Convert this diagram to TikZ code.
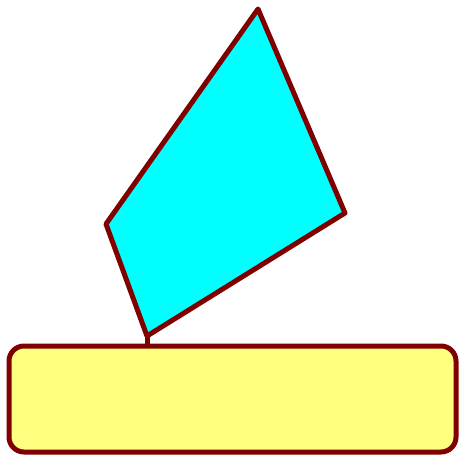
\documentclass[tikz,border=0pt]{standalone}
\usepackage{tikz}
\usetikzlibrary{calc, positioning}

\definecolor{rim}{RGB}{128,0,0}
\definecolor{lemon}{RGB}{255,255,128}
\definecolor{aqua}{RGB}{0,255,255}

\begin{document}
\begin{tikzpicture}[x=1pt, y=-1pt, line join=round,
  edge/.style={draw=rim, line width=5pt},
  slab/.style={edge, fill=lemon, rounded corners=15pt}]
\useasboundingbox (0,0) rectangle (461,458);
% base block
\path[slab] (9,346) rectangle (456,452);
\coordinate (base) at (147,346);
% tilted quadrilateral
\coordinate (top) at (258,9);
\coordinate (rgt) at (345,213);
\coordinate (bot) at (147,336);
\coordinate (lft) at (106,224);
\path[edge, fill=aqua] (top) -- (rgt) -- (bot) -- (lft) -- cycle;
\draw[edge] (bot) -- (base);
\end{tikzpicture}
\end{document}
